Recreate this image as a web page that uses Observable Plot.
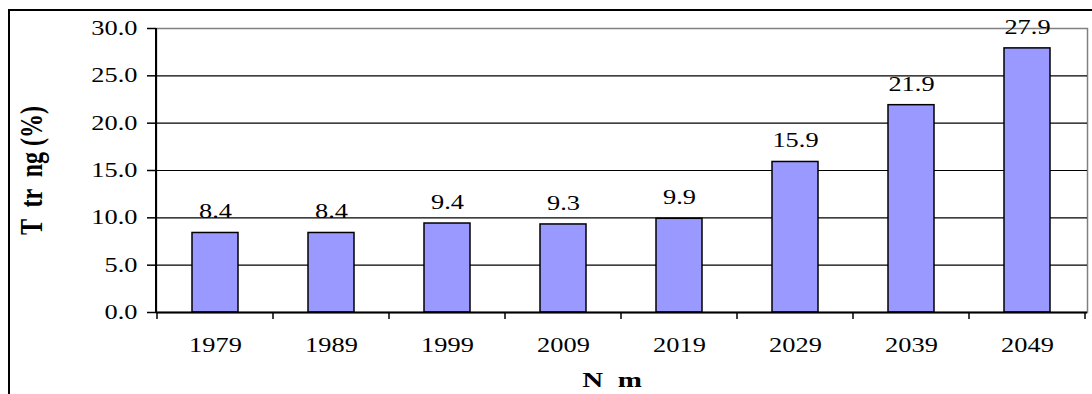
<!DOCTYPE html>
<html>
<head>
<meta charset="utf-8">
<script src="https://cdn.jsdelivr.net/npm/d3@7"></script>
<script src="https://cdn.jsdelivr.net/npm/@observablehq/plot@0.6"></script>
<style>
html, body { margin: 0; padding: 0; background: #fff; overflow: hidden; }
#wrap { position: relative; width: 1092px; height: 394px; }
#chart { position: absolute; left: 0; top: 0; }
#border { position: absolute; left: 8px; top: 9px; width: 1200px; height: 600px;
  border-left: 2px solid #000; border-top: 2px solid #000; pointer-events: none; }
</style>
</head>
<body>
<div id="wrap"><div id="chart"></div><div id="border"></div></div>
<script>
const years = ["1979", "1989", "1999", "2009", "2019", "2029", "2039", "2049"];
const shares = [8.4, 8.4, 9.4, 9.3, 9.9, 15.9, 21.9, 27.9];
const yTicks = [0, 5, 10, 15, 20, 25, 30];
const gridTicks = [5, 10, 15, 20, 25];
const yTitle = "T  tr  ng (%)";
const xTitle = "N  m";

const data = years.map((year, i) => ({year, share: shares[i]}));

function leftAxisLine(index, scales, values, dimensions) {
  const {marginLeft, marginTop, height, marginBottom} = dimensions;
  return d3.create("svg:line")
    .attr("x1", marginLeft).attr("x2", marginLeft)
    .attr("y1", marginTop).attr("y2", height - marginBottom)
    .attr("stroke", "#000").attr("stroke-width", 2).node();
}

function xBoundaryTicks(index, scales, values, dimensions) {
  const x = scales.x;
  const dom = x.domain();
  const bw = x.bandwidth();
  const step = dom.length > 1 ? x(dom[1]) - x(dom[0]) : bw;
  const gap = (step - bw) / 2;
  const positions = dom.map(d => x(d) - gap).concat([x(dom[dom.length - 1]) + bw + gap]);
  const y0 = dimensions.height - dimensions.marginBottom;
  const g = d3.create("svg:g").attr("stroke", "#000").attr("stroke-width", 1.5);
  g.selectAll("line").data(positions).join("line")
    .attr("x1", d => d).attr("x2", d => d)
    .attr("y1", y0).attr("y2", y0 + 7);
  return g.node();
}

const chart = Plot.plot({
  width: 1092,
  height: 394,
  marginLeft: 156,
  marginRight: 5,
  marginTop: 28,
  marginBottom: 82,
  style: {fontFamily: "'Liberation Serif', 'Times New Roman', serif", fontSize: "20px", background: "transparent", color: "#000"},
  x: {domain: years, paddingInner: 0.6, paddingOuter: 0.3},
  y: {domain: [0, 30]},
  marks: [
    Plot.frame({stroke: "#808080", strokeWidth: 1.5}),
    Plot.gridY(gridTicks, {stroke: "#000", strokeOpacity: 1, strokeWidth: 1.2}),
    Plot.barY(data, {x: "year", y: "share", fill: "#9999FF", stroke: "#000", strokeWidth: 1.5}),
    Plot.ruleY([0], {stroke: "#000", strokeWidth: 2}),
    leftAxisLine,
    xBoundaryTicks,
    Plot.axisY(yTicks, {tickSize: 9, tickPadding: 10, tickFormat: d => d.toFixed(1), strokeWidth: 1.5, label: null}),
    Plot.axisX({tickSize: 0, tickPadding: 25, label: null}),
    Plot.text(data, {x: "year", y: "share", text: d => d.share.toFixed(1), dy: -21}),
    Plot.text([yTitle], {text: d => d, frameAnchor: "left", textAnchor: "middle", lineAnchor: "middle", rotate: -90, dx: -122, fontWeight: "bold", fontSize: 24}),
    Plot.text([xTitle], {text: d => d, frameAnchor: "bottom", textAnchor: "middle", lineAnchor: "middle", dx: -10, dy: 67, fontWeight: "bold", fontSize: 22})
  ]
});

document.getElementById("chart").appendChild(chart);

// the reference's lettering is stretched horizontally; widen each text about its anchor
const stretchX = 1.32;
chart.querySelectorAll("text").forEach(t => {
  const list = t.transform.baseVal;
  const c = list.numberOfItems ? list.consolidate() : null;
  const M = c ? c.matrix : {a: 1, b: 0, c: 0, d: 1, e: 0, f: 0};
  const xs = t.x.baseVal, ys = t.y.baseVal;
  const px = xs.numberOfItems ? xs.getItem(0).value : 0;
  const py = ys.numberOfItems ? ys.getItem(0).value : 0;
  const ax = M.a * px + M.c * py + M.e;
  const ay = M.b * px + M.d * py + M.f;
  if (!isFinite(ax) || !isFinite(ay)) return;
  t.setAttribute("transform",
    `translate(${ax},${ay}) scale(${stretchX},1) translate(${-ax},${-ay}) matrix(${M.a},${M.b},${M.c},${M.d},${M.e},${M.f})`);
});
</script>
</body>
</html>
